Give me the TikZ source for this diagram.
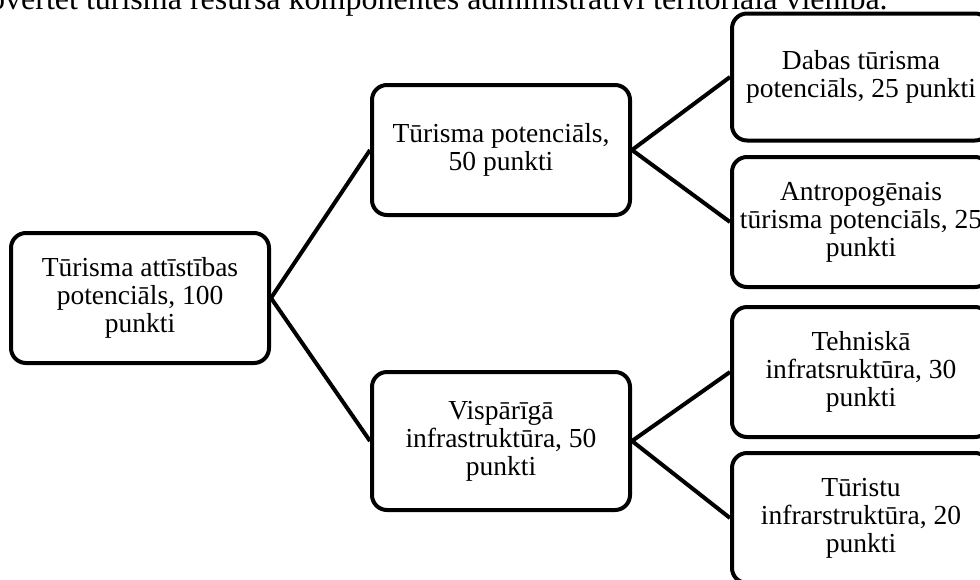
\documentclass[tikz,border=0pt]{standalone}
\usepackage{fontspec}
\setmainfont{Liberation Serif}
\begin{document}
\begin{tikzpicture}[
    x=0.5pt, y=-0.5pt,
    block/.style={draw, rounded corners=7.5pt, line width=2pt, align=center,
      minimum width=129pt, minimum height=65pt, inner sep=2pt,
      font=\fontsize{13.75}{14}\selectfont},
    link/.style={line width=2pt}
  ]
  \useasboundingbox (0,0) rectangle (980,579);
  \node[anchor=base east, inner sep=0pt, font=\fontsize{16}{16}\selectfont] (title) at (888,9)
    {Novērtēt tūrisma resursa komponentes administratīvi teritoriālā vienībā.};
  \node[block] (root) at (140,298) {Tūrisma attīstības\\potenciāls, 100\\punkti};
  \node[block] (tp) at (501,150) {Tūrisma potenciāls,\\50 punkti};
  \node[block, minimum height=69pt] (vi) at (501,441) {Vispārīgā\\infrastruktūra, 50\\punkti};
  \node[block, minimum height=63.5pt] (dab) at (861,77) {Dabas tūrisma\\potenciāls, 25 punkti};
  \node[block] (ant) at (861,222) {Antropogēnais\\tūrisma potenciāls, 25\\punkti};
  \node[block] (teh) at (861,372) {Tehniskā\\infratsruktūra, 30\\punkti};
  \node[block] (tur) at (861,518) {Tūristu\\infrarstruktūra, 20\\punkti};
  \draw[link] (root.east) -- (tp.west);
  \draw[link] (root.east) -- (vi.west);
  \draw[link] (tp.east) -- (dab.west);
  \draw[link] (tp.east) -- (ant.west);
  \draw[link] (vi.east) -- (teh.west);
  \draw[link] (vi.east) -- (tur.west);
\end{tikzpicture}
\end{document}
